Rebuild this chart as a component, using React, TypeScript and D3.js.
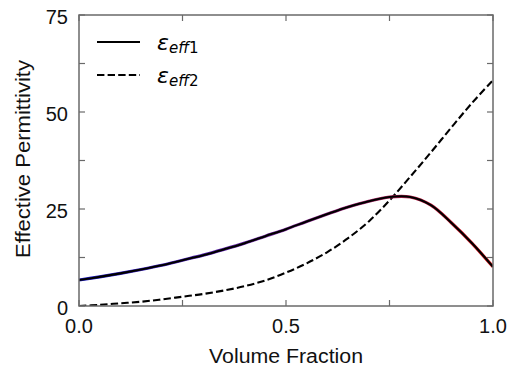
import React from "react";
import * as d3 from "d3";

const volumeFraction = [0, 0.05, 0.1, 0.15, 0.2, 0.25, 0.3, 0.35, 0.4, 0.45, 0.5, 0.55, 0.6, 0.65, 0.7, 0.75, 0.8, 0.85, 0.9, 0.95, 1.0];
const epsEff1 = [6.7, 7.5, 8.4, 9.4, 10.5, 11.8, 13.1, 14.6, 16.2, 18.0, 19.8, 21.8, 23.7, 25.5, 27.0, 28.1, 28.1, 26.0, 21.4, 16.1, 10.1];
const epsEff2 = [0.0, 0.3, 0.7, 1.1, 1.7, 2.4, 3.1, 4.0, 5.1, 6.6, 8.6, 11.0, 13.9, 17.5, 21.8, 27.2, 33.3, 39.6, 46.1, 52.4, 58.2];
const xTicks = [0, 0.25, 0.5, 0.75, 1.0];
const xTickLabels = ["0.0", "", "0.5", "", "1.0"];
const yTicks = [0, 12.5, 25, 37.5, 50, 62.5, 75];
const yTickLabels = ["0", "", "25", "", "50", "", "75"];

const W = 508, H = 369;
const L = 79, R = 493, T = 15, B = 306;
const FONT = "'Liberation Sans', Arial, Helvetica, sans-serif";

export default function App() {
  const x = d3.scaleLinear().domain([0, 1]).range([L, R]);
  const y = d3.scaleLinear().domain([0, 75]).range([B, T]);
  const line = d3
    .line<number>()
    .x((_, i) => x(volumeFraction[i]))
    .y((d) => y(d))
    .curve(d3.curveCatmullRom.alpha(0.5));
  const axisColor = "#6a6a6a";
  const tl = 6;
  return (
    <div style={{ position: "fixed", left: 0, top: 0 }}>
      <svg width={W} height={H} style={{ display: "block", background: "#fff" }}>
        <defs>
          <linearGradient id="g1" gradientUnits="userSpaceOnUse" x1={L} x2={R} y1={0} y2={0}>
            <stop offset="0" stopColor="#1c1cc8" />
            <stop offset="0.5" stopColor="#7a2a9a" />
            <stop offset="1" stopColor="#e01818" />
          </linearGradient>
          <clipPath id="clip">
            <rect x={L} y={T - 2} width={R - L} height={B - T + 2} />
          </clipPath>
        </defs>
        <g clipPath="url(#clip)">
          <path d={line(epsEff2) || ""} fill="none" stroke="#000" strokeWidth={2.1} strokeDasharray="7.4,3.2" />
          <path d={line(epsEff1) || ""} fill="none" stroke="url(#g1)" strokeWidth={3.2} />
          <path d={line(epsEff1) || ""} fill="none" stroke="#000" strokeWidth={2.1} />
        </g>
        {xTicks.map((t, i) => (
          <g key={"xt" + i}>
            <line x1={x(t)} x2={x(t)} y1={B} y2={B - tl} stroke={axisColor} strokeWidth={1.2} />
            <line x1={x(t)} x2={x(t)} y1={T} y2={T + tl} stroke={axisColor} strokeWidth={1.2} />
            {xTickLabels[i] && (
              <text x={x(t)} y={333} textAnchor="middle" fontFamily={FONT} fontSize={20} fill="#111">
                {xTickLabels[i]}
              </text>
            )}
          </g>
        ))}
        {yTicks.map((t, i) => (
          <g key={"yt" + i}>
            <line x1={L} x2={L + tl} y1={y(t)} y2={y(t)} stroke={axisColor} strokeWidth={1.2} />
            <line x1={R} x2={R - tl} y1={y(t)} y2={y(t)} stroke={axisColor} strokeWidth={1.2} />
            {yTickLabels[i] && (
              <text x={68} y={y(t) + 8.5} textAnchor="end" fontFamily={FONT} fontSize={20} fill="#111">
                {yTickLabels[i]}
              </text>
            )}
          </g>
        ))}
        <rect x={L} y={T} width={R - L} height={B - T} fill="none" stroke={axisColor} strokeWidth={1.5} />
        <text
          x={(L + R) / 2}
          y={363}
          textAnchor="middle"
          fontFamily={FONT}
          fontSize={20}
          fill="#111"
          textLength={154}
          lengthAdjust="spacingAndGlyphs"
        >
          Volume Fraction
        </text>
        <text
          transform={`translate(30,159) rotate(-90)`}
          textAnchor="middle"
          fontFamily={FONT}
          fontSize={20}
          fill="#111"
          textLength={198}
          lengthAdjust="spacingAndGlyphs"
        >
          Effective Permittivity
        </text>
        <line x1={97} x2={140} y1={42} y2={42} stroke="#000" strokeWidth={2.1} />
        <line x1={97} x2={140} y1={75} y2={75} stroke="#000" strokeWidth={2.1} strokeDasharray="7.4,3.2" />
        <text x={157} y={50} fontFamily="'DejaVu Sans', sans-serif" fill="#000">
          <tspan fontSize={22} fontStyle="italic">ε</tspan>
          <tspan fontSize={15} fontStyle="italic" dy={3}>eff</tspan>
          <tspan fontSize={15} dy={0}>1</tspan>
        </text>
        <text x={157} y={83} fontFamily="'DejaVu Sans', sans-serif" fill="#000">
          <tspan fontSize={22} fontStyle="italic">ε</tspan>
          <tspan fontSize={15} fontStyle="italic" dy={3}>eff</tspan>
          <tspan fontSize={15} dy={0}>2</tspan>
        </text>
      </svg>
    </div>
  );
}
